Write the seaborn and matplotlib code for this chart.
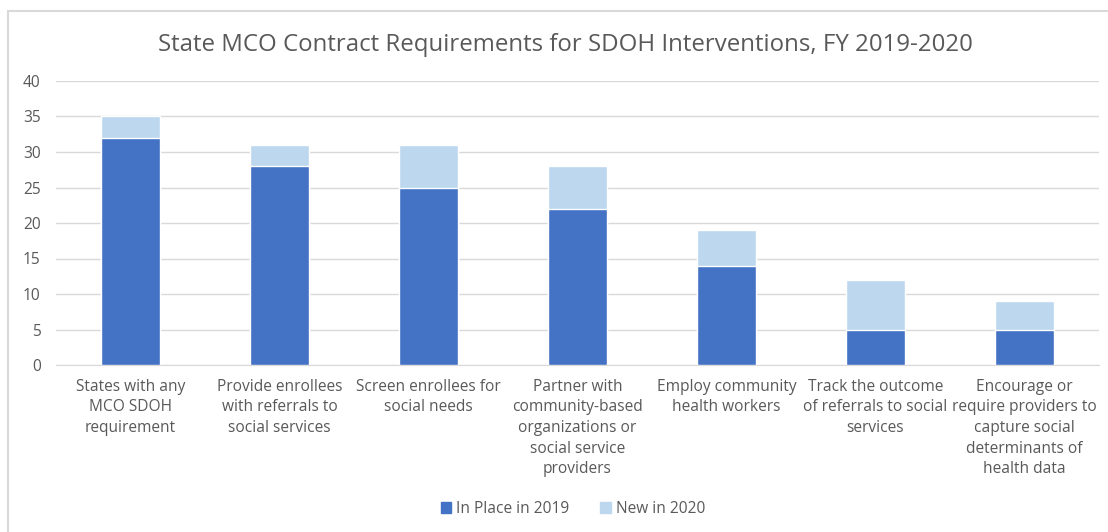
import matplotlib.pyplot as plt
import matplotlib.patches as mpatches
import pandas as pd
import seaborn as sns

categories = [
    "States with any\nMCO SDOH\nrequirement",
    "Provide enrollees\nwith referrals to\nsocial services",
    "Screen enrollees for\nsocial needs",
    "Partner with\ncommunity-based\norganizations or\nsocial service\nproviders",
    "Employ community\nhealth workers",
    "Track the outcome\nof referrals to social\nservices",
    "Encourage or\nrequire providers to\ncapture social\ndeterminants of\nhealth data",
]
in_place_2019 = [32, 28, 25, 22, 14, 5, 5]
new_2020 = [3, 3, 6, 6, 5, 7, 4]

df = pd.DataFrame({"cat": categories, "in_place": in_place_2019, "new": new_2020})
df["total"] = df["in_place"] + df["new"]

sns.set_style("white")
plt.rcParams["font.family"] = ["Open Sans", "DejaVu Sans"]
grey = "#595959"
dark = "#4472C4"
light = "#BDD7EE"

fig = plt.figure(figsize=(11.08, 5.32), dpi=100)
ax = fig.add_axes([56 / 1108, 167 / 532, (1099 - 56) / 1108, (451 - 167) / 532])

# stacked: total in light blue, 2019 portion drawn over it
sns.barplot(data=df, x="cat", y="total", color=light, width=0.4, saturation=1, ax=ax, zorder=2)
sns.barplot(data=df, x="cat", y="in_place", color=dark, width=0.4, saturation=1, ax=ax, zorder=3)

ax.set_ylim(0, 40)
ax.set_xlim(-0.5, 6.5)
ax.set_yticks(range(0, 41, 5))
ax.yaxis.grid(True, color="#d9d9d9", linewidth=1)
ax.set_axisbelow(True)
for s in ["top", "right", "left"]:
    ax.spines[s].set_visible(False)
ax.spines["bottom"].set_color("#d9d9d9")
ax.set_xlabel("")
ax.set_ylabel("")
ax.tick_params(axis="both", length=0, colors=grey, labelsize=11.2)
ax.tick_params(axis="x", pad=10)
ax.tick_params(axis="y", pad=11)
for lbl in ax.get_xticklabels():
    lbl.set_linespacing(1.38)

fig.text(565 / 1108, 1 - 45 / 532, "State MCO Contract Requirements for SDOH Interventions, FY 2019-2020",
         ha="center", va="center", fontsize=17.3, color=grey)

handles = [mpatches.Patch(color=dark, label="In Place in 2019"),
           mpatches.Patch(color=light, label="New in 2020")]
fig.legend(handles=handles, loc="center", bbox_to_anchor=(573 / 1108, 1 - 509 / 532), ncol=2,
           frameon=False, fontsize=11.2, labelcolor=grey, handlelength=0.65, handleheight=0.65,
           handletextpad=0.35, columnspacing=2.0)

fig.patches.append(mpatches.Rectangle((8 / 1108, -0.1), 1.2, 1.1 - 11 / 532, transform=fig.transFigure,
                                      fill=False, edgecolor="#d9d9d9", linewidth=1.5, zorder=0))

fig.savefig("out.png", dpi=100)
